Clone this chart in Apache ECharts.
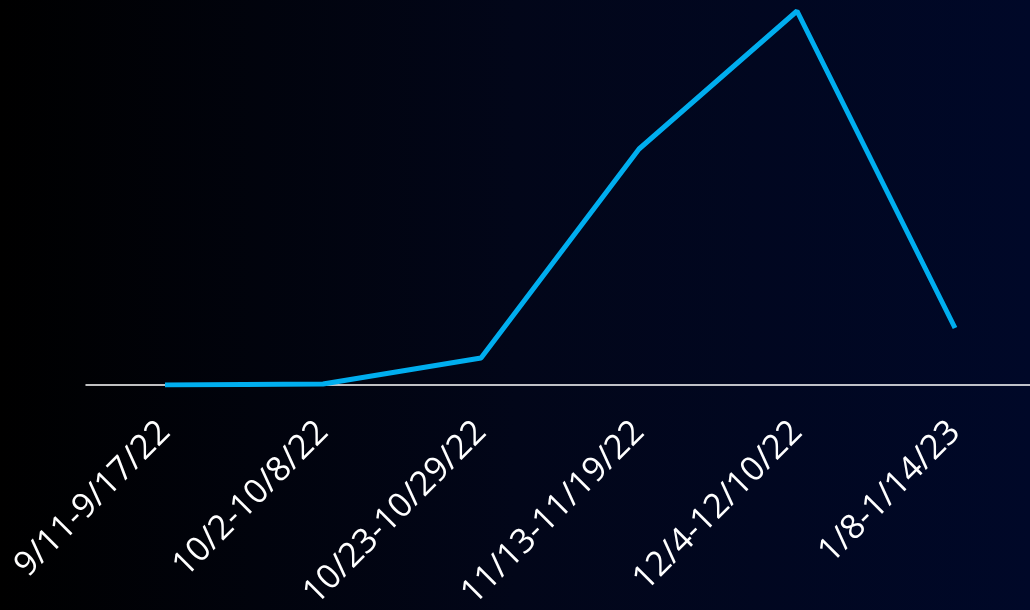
<!DOCTYPE html>
<html>
<head>
<meta charset="utf-8">
<script src="https://cdn.jsdelivr.net/npm/echarts@6/dist/echarts.min.js"></script>
<style>
html,body{margin:0;padding:0;background:#000;overflow:hidden;}
#c{width:1030px;height:610px;}
</style>
</head>
<body>
<div id="c"></div>
<script>
var categories = ['9/11-9/17/22','10/2-10/8/22','10/23-10/29/22','11/13-11/19/22','12/4-12/10/22','1/8-1/14/23'];
var values = [0, 0.1, 2.7, 23.6, 37.4, 5.7];

var chart = echarts.init(document.getElementById('c'));
chart.setOption({
  backgroundColor: new echarts.graphic.LinearGradient(0,0,1,0,[
    {offset:0,color:'#000000'},
    {offset:0.5,color:'#020619'},
    {offset:1,color:'#000828'}
  ]),
  animation:false,
  grid:{left:86, top:11, right:-4, bottom:225, containLabel:false, outerBoundsMode:'none'},
  xAxis:{
    type:'category',
    data:categories,
    boundaryGap:true,
    axisLine:{show:true, lineStyle:{color:'#ffffff', width:1.5}},
    axisTick:{show:false},
    axisLabel:{color:'#ffffff', fontSize:34, fontFamily:'Open Sans', rotate:45, margin:42, interval:0}
  },
  yAxis:{
    type:'value', min:0, max:37.4,
    show:false, splitLine:{show:false}
  },
  series:[{
    type:'line',
    data:values,
    symbol:'none',
    lineStyle:{color:'#00AEEF', width:5},
    z:3
  }]
});
</script>
</body>
</html>
